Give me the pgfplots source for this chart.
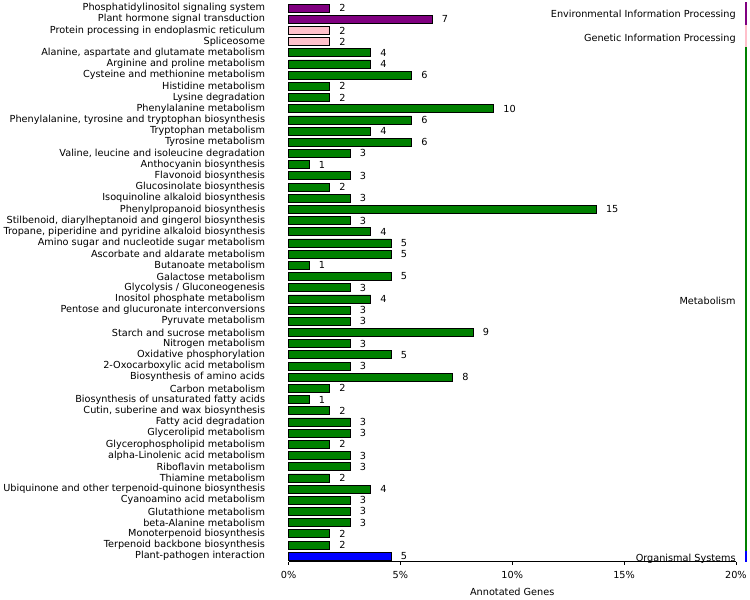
\documentclass[border=0pt]{standalone}
\usepackage{fontspec}
\setmainfont{DejaVu Sans}
\usepackage{pgfplots}
\pgfplotsset{compat=1.18}
\definecolor{kpurple}{RGB}{128,0,128}
\definecolor{kpink}{RGB}{255,192,203}
\definecolor{kgreen}{RGB}{0,128,0}
\definecolor{kblue}{RGB}{0,0,255}
\newcommand{\lf}{\fontsize{9.7}{10}\selectfont}
\begin{document}
\begin{tikzpicture}
\begin{axis}[
  scale only axis, width=447pt, height=559pt,
  xbar, bar width=8pt, bar shift=0pt,
  y dir=reverse, ymin=-0.5, ymax=49.5,
  xmin=0, xmax=21.8,
  clip=false,
  /pgf/number format/assume math mode=true,
  axis x line*=bottom, axis y line*=left,
  y axis line style={draw=none},
  x axis line style={line width=1pt},
  ytick style={draw=none},
  xtick style={black, line width=0.6pt},
  tick align=outside, major tick length=3pt,
  xtick={0,5.45,10.9,16.35,21.8},
  xticklabels={0\%,5\%,10\%,15\%,20\%},
  ytick={0,...,49},
  yticklabels={
    Phosphatidylinositol signaling system,
    Plant hormone signal transduction,
    Protein processing in endoplasmic reticulum,
    Spliceosome,
    {Alanine, aspartate and glutamate metabolism},
    Arginine and proline metabolism,
    Cysteine and methionine metabolism,
    Histidine metabolism,
    Lysine degradation,
    Phenylalanine metabolism,
    {Phenylalanine, tyrosine and tryptophan biosynthesis},
    Tryptophan metabolism,
    Tyrosine metabolism,
    {Valine, leucine and isoleucine degradation},
    Anthocyanin biosynthesis,
    Flavonoid biosynthesis,
    Glucosinolate biosynthesis,
    Isoquinoline alkaloid biosynthesis,
    Phenylpropanoid biosynthesis,
    {Stilbenoid, diarylheptanoid and gingerol biosynthesis},
    {Tropane, piperidine and pyridine alkaloid biosynthesis},
    Amino sugar and nucleotide sugar metabolism,
    Ascorbate and aldarate metabolism,
    Butanoate metabolism,
    Galactose metabolism,
    Glycolysis / Gluconeogenesis,
    Inositol phosphate metabolism,
    Pentose and glucuronate interconversions,
    Pyruvate metabolism,
    Starch and sucrose metabolism,
    Nitrogen metabolism,
    Oxidative phosphorylation,
    2-Oxocarboxylic acid metabolism,
    Biosynthesis of amino acids,
    Carbon metabolism,
    Biosynthesis of unsaturated fatty acids,
    {Cutin, suberine and wax biosynthesis},
    Fatty acid degradation,
    Glycerolipid metabolism,
    Glycerophospholipid metabolism,
    alpha-Linolenic acid metabolism,
    Riboflavin metabolism,
    Thiamine metabolism,
    Ubiquinone and other terpenoid-quinone biosynthesis,
    Cyanoamino acid metabolism,
    Glutathione metabolism,
    beta-Alanine metabolism,
    Monoterpenoid biosynthesis,
    Terpenoid backbone biosynthesis,
    Plant-pathogen interaction},
  tick label style={font=\lf},
  yticklabel style={xshift=-17pt},
  xticklabel style={yshift=-3pt},
  xlabel={Annotated Genes},
  xlabel style={font=\lf, yshift=-3pt},
  nodes near coords,
  nodes near coords align={horizontal},
  every node near coord/.append style={font=\lf, xshift=6pt, black},
]
\addplot[draw=black, line width=0.7pt, fill=kpurple] coordinates {(2,0) (7,1)};
\addplot[draw=black, line width=0.7pt, fill=kpink] coordinates {(2,2) (2,3)};
\addplot[draw=black, line width=0.7pt, fill=kgreen] coordinates {
  (4,4) (4,5) (6,6) (2,7) (2,8) (10,9) (6,10) (4,11) (6,12) (3,13)
  (1,14) (3,15) (2,16) (3,17) (15,18) (3,19) (4,20) (5,21) (5,22) (1,23)
  (5,24) (3,25) (4,26) (3,27) (3,28) (9,29) (3,30) (5,31) (3,32) (8,33)
  (2,34) (1,35) (2,36) (3,37) (3,38) (2,39) (3,40) (3,41) (2,42) (4,43)
  (3,44) (3,45) (3,46) (2,47) (2,48)};
\addplot[draw=black, line width=0.7pt, fill=kblue] coordinates {(5,49)};
\draw[kpurple, line width=2pt] (axis cs:22.3,-0.5) -- (axis cs:22.3,1.5);
\draw[kpink, line width=2pt] (axis cs:22.3,1.5) -- (axis cs:22.3,3.5);
\draw[kgreen, line width=2pt] (axis cs:22.3,3.5) -- (axis cs:22.3,48.5);
\draw[kblue, line width=2pt] (axis cs:22.3,48.5) -- (axis cs:22.3,49.5);
\node[anchor=east, font=\lf, inner sep=0pt] at (axis cs:21.8,0.65) {Environmental Information Processing};
\node[anchor=east, font=\lf, inner sep=0pt] at (axis cs:21.8,2.75) {Genetic Information Processing};
\node[anchor=east, font=\lf, inner sep=0pt] at (axis cs:21.8,26.2) {Metabolism};
\node[anchor=east, font=\lf, inner sep=0pt] at (axis cs:21.8,49.2) {Organismal Systems};
\end{axis}
\end{tikzpicture}
\end{document}
